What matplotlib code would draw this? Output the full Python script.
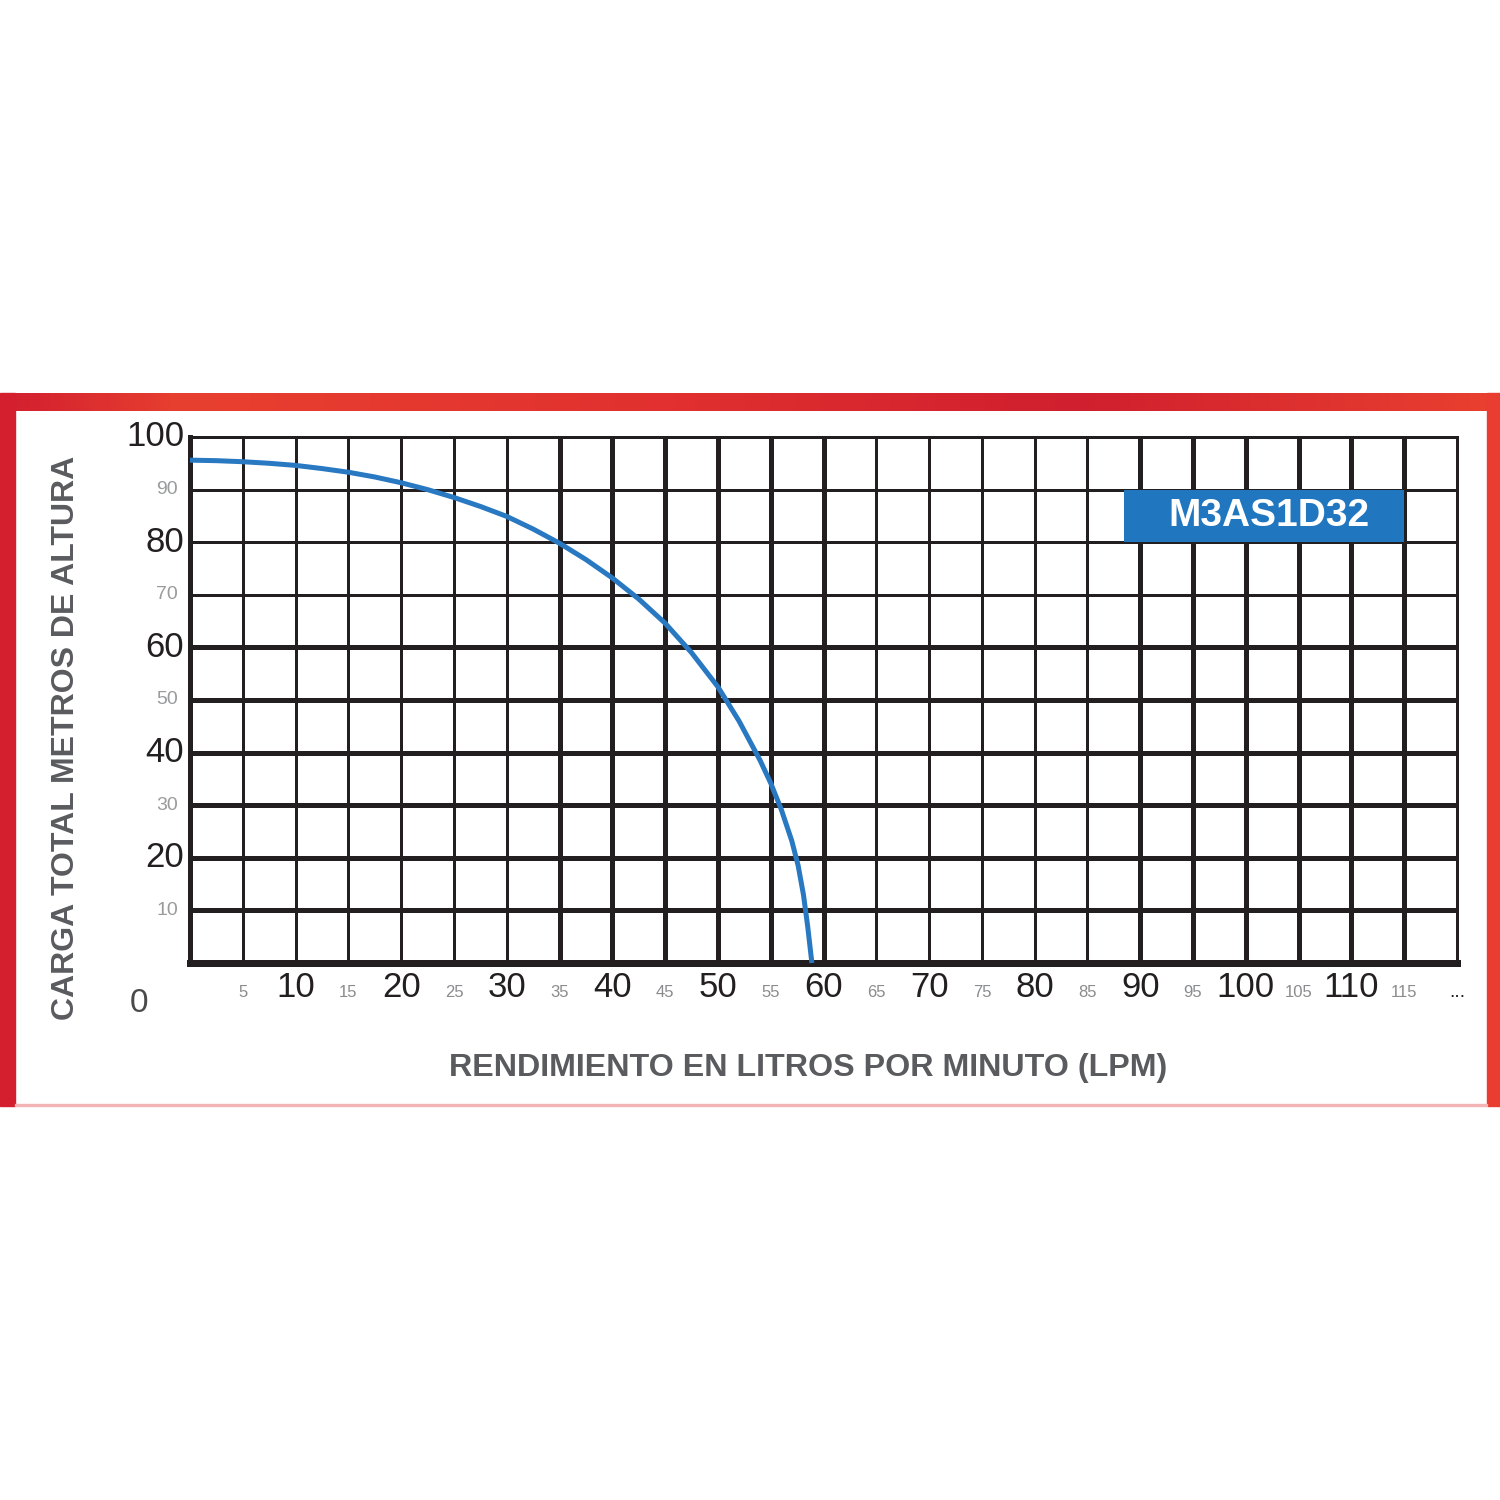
import matplotlib
matplotlib.use("Agg")
import matplotlib.pyplot as plt
import numpy as np
from matplotlib.patches import Rectangle
from matplotlib.colors import LinearSegmentedColormap
import matplotlib.transforms as mtransforms

# ---- data ----
flow_lpm = [0, 2.5, 5, 7.5, 10, 12.5, 15, 17.5, 20, 22.5, 25, 27.5, 30, 32.5,
            35, 37.5, 40, 42.5, 45, 47.5, 50, 52, 54, 55, 56, 57, 57.6, 58.1,
            58.5, 58.9]
head_m = [95.6, 95.5, 95.3, 95.0, 94.6, 94.0, 93.3, 92.4, 91.3, 90.0, 88.5,
          86.8, 84.9, 82.5, 79.8, 76.7, 73.2, 69.2, 64.6, 59.0, 52.5, 46.0,
          38.5, 34.2, 29.2, 23.2, 18.5, 13.0, 7.0, 0.0]

x_major = [10, 20, 30, 40, 50, 60, 70, 80, 90, 100, 110]
x_minor = [5, 15, 25, 35, 45, 55, 65, 75, 85, 95, 105, 115]
y_major = [20, 40, 60, 80, 100]
y_minor = [10, 30, 50, 70, 90]
x_grid = list(range(5, 120, 5))
y_grid = list(range(10, 100, 10))
thin_x = [5, 10, 15, 20, 25, 30, 65, 70, 75, 80, 85]
thin_y = [70, 80, 90]

model_name = "M3AS1D32"
model_box_x = [88.5, 115]
model_box_y = [80, 90]
x_title = "RENDIMIENTO EN LITROS POR MINUTO (LPM)"
y_title = "CARGA TOTAL METROS DE ALTURA"

# ---- figure ----
W = H = 1500
fig = plt.figure(figsize=(15, 15), dpi=100)
fig.patch.set_facecolor("white")

def fy(py):
    return 1 - py / H

# red frame
band = fig.add_axes([0, fy(411), 1, fy(393) - fy(411)])
cmap = LinearSegmentedColormap.from_list(
    "redband", [(0, "#d21f2f"), (0.12, "#e8402f"), (0.45, "#e1302f"),
                (0.72, "#d01f2e"), (1.0, "#e94030")])
band.imshow(np.linspace(0, 1, 300)[None, :], aspect="auto", cmap=cmap,
            extent=[0, 1, 0, 1])
band.set_axis_off()
fig.patches.append(Rectangle((0, fy(1106)), 15 / W, fy(393) - fy(1106),
                             transform=fig.transFigure, color="#d41f2e", zorder=5))
fig.patches.append(Rectangle((1487 / W, fy(1106)), 13 / W, fy(393) - fy(1106),
                             transform=fig.transFigure, color="#e83d30", zorder=5))
fig.patches.append(Rectangle((15 / W, fy(1106)), 1472 / W, 2 / H,
                             transform=fig.transFigure, color="#f2b4b4", zorder=5))

# plot axes
x0, x1 = 190, 1457
y0, y1 = 963, 437
ax = fig.add_axes([x0 / W, fy(y0), (x1 - x0) / W, (y0 - y1) / H])
ax.set_xlim(0, 120)
ax.set_ylim(0, 100)
ax.set_xticks([])
ax.set_yticks([])

gc = "#231f20"
px = 0.72  # points per pixel
for xv in x_grid:
    ax.axvline(xv, color=gc, lw=(3 if xv in thin_x else 5) * px, zorder=1)
for yv in y_grid:
    ax.axhline(yv, color=gc, lw=(3 if yv in thin_y else 5) * px, zorder=1)

for side, w in [("left", 5), ("bottom", 7), ("top", 3), ("right", 3)]:
    ax.spines[side].set_linewidth(w * px)
    ax.spines[side].set_color(gc)
    ax.spines[side].set_zorder(3)

ax.plot(flow_lpm, head_m, color="#2878c2", lw=5 * px, zorder=4,
        solid_capstyle="butt", solid_joinstyle="round", clip_on=False)

# model box
ax.add_patch(Rectangle((model_box_x[0], model_box_y[0]),
                       model_box_x[1] - model_box_x[0],
                       model_box_y[1] - model_box_y[0],
                       facecolor="#2176c0", edgecolor="none", zorder=5))
ax.text(sum(model_box_x) / 2 + 0.45, sum(model_box_y) / 2, model_name,
        color="white", fontsize=28, fontweight="bold",
        family=["Liberation Sans", "DejaVu Sans"],
        ha="center", va="center", zorder=6)

tick_font = ["Liberation Sans Narrow", "Liberation Sans", "DejaVu Sans"]
# x tick labels
xtrans = mtransforms.blended_transform_factory(ax.transData, ax.transAxes)
base_off = mtransforms.ScaledTranslation(0, -34 / 100, fig.dpi_scale_trans)
for xv in x_major:
    ax.text(xv, 0, str(xv), transform=xtrans + base_off, ha="center",
            va="baseline", fontsize=25, color="#231f20", family=tick_font,
            clip_on=False)
for xv in x_minor:
    ax.text(xv, 0, str(xv), transform=xtrans + base_off, ha="center",
            va="baseline", fontsize=12, color="#8a8b8d", family=tick_font,
            clip_on=False)
ax.text(120, 0, "...", transform=xtrans + base_off, ha="center",
        va="baseline", fontsize=14, color="#231f20", family=tick_font,
        clip_on=False)

# y tick labels
ytrans = mtransforms.blended_transform_factory(ax.transAxes, ax.transData)
for yv in y_major:
    off = mtransforms.ScaledTranslation(-6 / 100, 0, fig.dpi_scale_trans)
    ax.text(0, yv, str(yv), transform=ytrans + off, ha="right", va="center",
            fontsize=25, color="#231f20", family=tick_font, clip_on=False)
for yv in y_minor:
    off = mtransforms.ScaledTranslation(-12 / 100, 0, fig.dpi_scale_trans)
    ax.text(0, yv, str(yv), transform=ytrans + off, ha="right", va="center",
            fontsize=14, color="#9a9b9d", family=tick_font, clip_on=False)

# origin "0"
fig.text(139 / W, fy(1004), "0", ha="center", va="center", fontsize=24,
         color="#4a4a4c", family=tick_font)

# axis titles
fig.text(808 / W, fy(1068), x_title, ha="center", va="center", fontsize=23.2,
         fontweight="bold", color="#5a5b5e",
         family=["Liberation Sans", "DejaVu Sans"])
fig.text(66 / W, fy(738), y_title, ha="center", va="center", fontsize=23,
         fontweight="bold", color="#5a5b5e", rotation=90,
         family=["Liberation Sans", "DejaVu Sans"])

fig.savefig("out.png", dpi=100, facecolor="white")
